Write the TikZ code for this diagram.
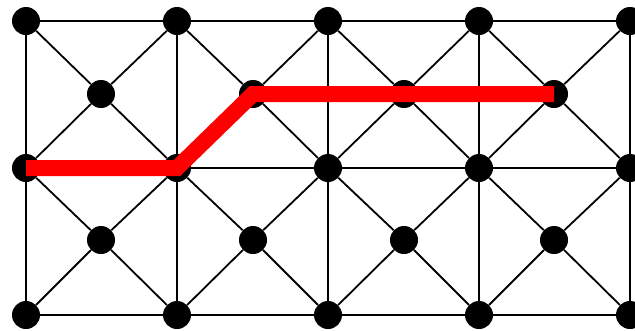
\documentclass[tikz,border=0pt]{standalone}
\begin{document}
\begin{tikzpicture}[x=1pt,y=-1pt,
  dot/.style={circle,fill=black,draw=none,minimum size=28pt,inner sep=0pt},
  edge/.style={draw=black,line width=1.8pt},
  redpath/.style={draw=red,line width=16pt,line cap=butt,line join=miter}]
\useasboundingbox (0,0) rectangle (635,330);
\def\xs{{26,177,328,479,630}}
\def\ys{{21,168,315}}
\def\mx{{101,253,404,554}}
\def\my{{94,240}}
% corner nodes
\foreach \i in {0,...,4}{
  \foreach \j in {0,1,2}{
    \pgfmathsetmacro\px{\xs[\i]}
    \pgfmathsetmacro\py{\ys[\j]}
    \node[dot] (c-\i-\j) at (\px,\py) {};
  }
}
% center nodes
\foreach \i in {0,...,3}{
  \foreach \j in {0,1}{
    \pgfmathsetmacro\px{\mx[\i]}
    \pgfmathsetmacro\py{\my[\j]}
    \node[dot] (m-\i-\j) at (\px,\py) {};
  }
}
% horizontal edges
\foreach \i [evaluate=\i as \n using int(\i+1)] in {0,...,3}{
  \draw[edge] (c-\i-0) -- (c-\n-0);
  \draw[edge,line width=2.6pt] (c-\i-1) -- (c-\n-1);
  \draw[edge] (c-\i-2) -- (c-\n-2);
}
% vertical edges
\foreach \i in {0,...,4}{
  \draw[edge] (c-\i-0) -- (c-\i-1);
  \draw[edge] (c-\i-1) -- (c-\i-2);
}
% diagonals
\foreach \i [evaluate=\i as \n using int(\i+1)] in {0,...,3}{
  \foreach \j [evaluate=\j as \k using int(\j+1)] in {0,1}{
    \draw[edge] (c-\i-\j) -- (m-\i-\j);
    \draw[edge] (c-\n-\j) -- (m-\i-\j);
    \draw[edge] (c-\i-\k) -- (m-\i-\j);
    \draw[edge] (c-\n-\k) -- (m-\i-\j);
  }
}
% red path
\draw[redpath] (c-0-1.center) -- (c-1-1.center) -- (m-1-0.center) -- (m-3-0.center);
\end{tikzpicture}
\end{document}
